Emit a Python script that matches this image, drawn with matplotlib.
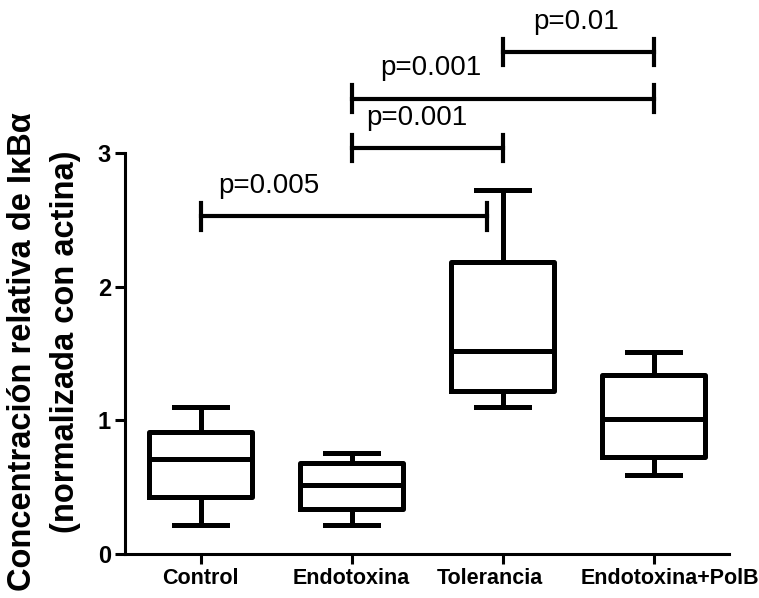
#!/usr/bin/env python3
"""IκBα relative concentration box plot with significance brackets."""
import matplotlib

matplotlib.use("Agg")
import matplotlib.pyplot as plt
import matplotlib.transforms as mtransforms

groups = ["Control", "Endotoxina", "Tolerancia", "Endotoxina+PolB"]
whisker_low = [0.22, 0.22, 1.10, 0.59]
q1 = [0.43, 0.34, 1.22, 0.73]
median = [0.71, 0.52, 1.52, 1.01]
q3 = [0.91, 0.68, 2.19, 1.34]
whisker_high = [1.10, 0.76, 2.73, 1.51]

# brackets: (start group, end group, height, label, label x)
bracket_start = [1, 2, 2, 3]
bracket_end = [2.9, 3, 4, 4]
bracket_y = [2.53, 3.04, 3.41, 3.76]
bracket_text = ["p=0.005", "p=0.001", "p=0.001", "p=0.01"]
text_x = [1.12, 2.10, 2.19, 3.20]

plt.rcParams["font.family"] = ["Liberation Sans", "DejaVu Sans"]

fig = plt.figure(figsize=(7.59, 5.98), dpi=100)
ax = fig.add_axes([0.1647, 0.0736, 0.7958, 0.893])

stats = [
    {"whislo": lo, "q1": a, "med": m, "q3": b, "whishi": hi, "label": g}
    for g, lo, a, m, b, hi in zip(groups, whisker_low, q1, median, q3, whisker_high)
]
lw = 3.6
ax.bxp(
    stats,
    positions=range(1, len(groups) + 1),
    widths=0.68,
    showfliers=False,
    boxprops=dict(linewidth=lw, color="black"),
    medianprops=dict(linewidth=lw, color="black"),
    whiskerprops=dict(linewidth=lw, color="black"),
    capprops=dict(linewidth=lw, color="black"),
    capwidths=0.35,
)

for x0, x1, y, label, tx in zip(bracket_start, bracket_end, bracket_y, bracket_text, text_x):
    ax.plot([x0, x1], [y, y], color="black", linewidth=3.0, clip_on=False)
    for xe in (x0, x1):
        ax.plot([xe, xe], [y - 0.1, y + 0.1], color="black", linewidth=3.0,
                clip_on=False)
    ax.text(tx, y + 0.13, label, fontsize=20, ha="left", va="bottom",
            color="black")

ax.set_xlim(0.5, 4.5)
ax.set_ylim(0, 4.0)
ax.set_yticks([0, 1, 2, 3])
ax.spines["left"].set_bounds(0, 3)
ax.spines["top"].set_visible(False)
ax.spines["right"].set_visible(False)
for side in ("left", "bottom"):
    ax.spines[side].set_linewidth(2.2)
ax.tick_params(axis="both", width=2.2, length=7, color="black")
ax.tick_params(axis="y", labelsize=17, pad=3)
ax.tick_params(axis="x", labelsize=15.5, pad=3)
for lab in ax.get_xticklabels() + ax.get_yticklabels():
    lab.set_fontweight("bold")

# nudge the two crowded labels apart like the original
xlabels = ax.get_xticklabels()
for lab, dx in ((xlabels[2], -13), (xlabels[3], 16)):
    lab.set_transform(lab.get_transform()
                      + mtransforms.ScaledTranslation(dx / 100, 0, fig.dpi_scale_trans))

fig.text(0.029, 1 - 352 / 598, "Concentración relativa de IκBα", rotation=90,
         ha="center", va="center", fontsize=23.5, fontweight="bold")
fig.text(0.086, 1 - 342 / 598, "(normalizada con actina)", rotation=90,
         ha="center", va="center", fontsize=23.5, fontweight="bold")

fig.savefig("out.png", dpi=100)
